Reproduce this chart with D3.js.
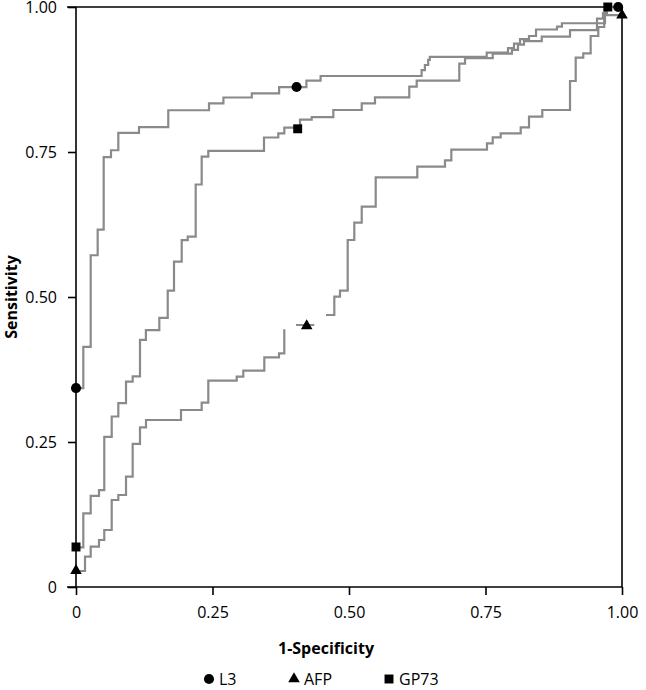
<!DOCTYPE html>
<html>
<head>
<meta charset="utf-8">
<script src="https://cdn.jsdelivr.net/npm/d3@7/dist/d3.min.js"></script>
<style>
  html, body { margin: 0; padding: 0; background: #fff; }
  svg { display: block; }
  text { font-family: "Open Sans", "Noto Sans", sans-serif; fill: #000; }
</style>
</head>
<body>
<svg id="chart" width="646" height="690"></svg>
<script>
// ---- Data (1-Specificity, Sensitivity) step corners ----
const seriesNames = ["L3", "AFP", "GP73"];

const l3Points = [
  [0, 0.343], [0.0134, 0.414], [0.0269, 0.572], [0.0397, 0.616], [0.0507, 0.741],
  [0.0641, 0.753], [0.0775, 0.783], [0.1154, 0.793], [0.169, 0.822], [0.2436, 0.834],
  [0.270, 0.844], [0.322, 0.851], [0.372, 0.862], [0.422, 0.873], [0.448, 0.881],
  [0.633, 0.891], [0.639, 0.900], [0.645, 0.909], [0.648, 0.914], [0.7522, 0.9214],
  [0.7912, 0.929], [0.8022, 0.937], [0.8132, 0.9445], [0.8297, 0.950], [0.8425, 0.9612],
  [0.881, 0.966], [0.890, 0.972], [0.9542, 0.980], [0.9652, 0.990], [0.9725, 1.0],
  [0.993, 1.0]
];

const gp73Points = [
  [0, 0.0684], [0.0134, 0.127], [0.0269, 0.157], [0.0421, 0.167], [0.0518, 0.259],
  [0.0654, 0.294], [0.0775, 0.317], [0.0916, 0.354], [0.1038, 0.363], [0.1172, 0.426],
  [0.128, 0.443], [0.1526, 0.464], [0.168, 0.511], [0.1795, 0.561], [0.1936, 0.598],
  [0.2046, 0.604], [0.2192, 0.694], [0.2302, 0.742], [0.2423, 0.752], [0.3443, 0.775],
  [0.3705, 0.782], [0.3815, 0.792], [0.4103, 0.8057], [0.4317, 0.8103], [0.4713, 0.8224],
  [0.5233, 0.834], [0.5476, 0.8443], [0.6104, 0.8626], [0.624, 0.8729], [0.702, 0.9022],
  [0.7125, 0.9119], [0.7632, 0.9195], [0.7985, 0.926], [0.8095, 0.935], [0.8205, 0.941],
  [0.853, 0.949], [0.9048, 0.960], [0.9542, 0.972], [0.9689, 0.988], [0.9689, 1.0],
  [0.974, 1.0]
];

// null marks a visible break in the drawn AFP curve
const afpPoints = [
  [0, 0.0276], [0.0165, 0.0522], [0.0269, 0.0695], [0.0421, 0.081], [0.0518, 0.0983],
  [0.0654, 0.150], [0.0775, 0.1586], [0.0916, 0.1902], [0.1038, 0.2466], [0.1172, 0.2753],
  [0.1282, 0.2879], [0.1923, 0.3052], [0.2302, 0.3178], [0.2423, 0.3557], [0.2943, 0.3626],
  [0.3064, 0.3729], [0.3449, 0.396], [0.3718, 0.4029], [0.3815, 0.4443],
  null,
  [0.4029, 0.4517], [0.4364, 0.4517],
  null,
  [0.4579, 0.469], [0.4731, 0.5005], [0.4835, 0.5109], [0.4976, 0.5983], [0.5097, 0.6281],
  [0.5233, 0.6557], [0.5489, 0.7064], [0.6251, 0.7247], [0.6758, 0.7357], [0.6874, 0.754],
  [0.7527, 0.765], [0.7632, 0.7753], [0.7778, 0.7822], [0.8145, 0.7926], [0.8297, 0.8109],
  [0.854, 0.8224], [0.9048, 0.8724], [0.9152, 0.9126], [0.9291, 0.9202], [0.9426, 0.950],
  [0.9566, 0.9655], [0.9674, 0.986], [1.0, 0.986]
];

const l3Markers = [[0, 0.343], [0.404, 0.862], [0.993, 1.0]];
const afpMarkers = [[0, 0.028], [0.4225, 0.45], [1.0, 0.986]];
const gp73Markers = [[0, 0.069], [0.406, 0.79], [0.974, 1.0]];

const tickValues = [0, 0.25, 0.5, 0.75, 1.0];
const tickLabels = ["0", "0.25", "0.50", "0.75", "1.00"];
const xTitle = "1-Specificity";
const yTitle = "Sensitivity";

// ---- Drawing ----
const svg = d3.select("#chart");
const x = d3.scaleLinear().domain([0, 1]).range([76, 622]);
const y = d3.scaleLinear().domain([0, 1]).range([587, 7]);

const fmt = v => tickLabels[tickValues.indexOf(v)];

// frame (top and right)
svg.append("line").attr("x1", x(0) - 9).attr("x2", x(1)).attr("y1", y(1)).attr("y2", y(1))
  .attr("stroke", "#000").attr("stroke-width", 1.6);
svg.append("line").attr("x1", x(1)).attr("x2", x(1)).attr("y1", y(1)).attr("y2", y(0))
  .attr("stroke", "#000").attr("stroke-width", 1.6);

const xAxis = svg.append("g").attr("transform", `translate(0,${y(0)})`)
  .call(d3.axisBottom(x).tickValues(tickValues).tickFormat(fmt).tickSize(8).tickPadding(12));
const yAxis = svg.append("g").attr("transform", `translate(${x(0)},0)`)
  .call(d3.axisLeft(y).tickValues(tickValues).tickFormat(fmt).tickSize(8).tickPadding(11));

[xAxis, yAxis].forEach(g => {
  g.select(".domain").remove();
  g.selectAll(".tick line").attr("stroke", "#000").attr("stroke-width", 1.6);
  g.selectAll(".tick text").style("font-size", "16px").style("font-family", "'Open Sans', sans-serif").attr("fill", "#000");
});
// axis lines
svg.append("line").attr("x1", x(0) - 9).attr("x2", x(1)).attr("y1", y(0)).attr("y2", y(0))
  .attr("stroke", "#000").attr("stroke-width", 1.6);
svg.append("line").attr("x1", x(0)).attr("x2", x(0)).attr("y1", y(1)).attr("y2", y(0))
  .attr("stroke", "#000").attr("stroke-width", 1.6);

// curves
const line = d3.line()
  .defined(d => d !== null)
  .x(d => x(d[0])).y(d => y(d[1]))
  .curve(d3.curveStepAfter);

[l3Points, afpPoints, gp73Points].forEach(pts => {
  svg.append("path").datum(pts).attr("d", line)
    .attr("fill", "none").attr("stroke", "#8a8a8a").attr("stroke-width", 2.2);
});

// markers
const symCircle = d3.symbol(d3.symbolCircle, 80);
const symTriangle = d3.symbol(d3.symbolTriangle, 58);
const symSquare = d3.symbol(d3.symbolSquare, 80);

function drawMarkers(data, sym) {
  svg.append("g").selectAll("path").data(data).join("path")
    .attr("d", sym)
    .attr("transform", d => `translate(${x(d[0])},${y(d[1])})`)
    .attr("fill", "#000");
}
drawMarkers(l3Markers, symCircle);
drawMarkers(afpMarkers, symTriangle);
drawMarkers(gp73Markers, symSquare);

// titles
svg.append("text").attr("x", 326).attr("y", 654).attr("text-anchor", "middle")
  .style("font-size", "16px").style("font-weight", "bold").text(xTitle);
svg.append("text").attr("transform", `translate(17,${(y(0) + y(1)) / 2}) rotate(-90)`)
  .attr("text-anchor", "middle").style("font-size", "16px").style("font-weight", "bold").text(yTitle);

// legend
const legendSyms = [symCircle, symTriangle, symSquare];
const legendX = [209, 294, 389];
const lg = svg.append("g");
seriesNames.forEach((name, i) => {
  lg.append("path").attr("d", legendSyms[i]).attr("transform", `translate(${legendX[i]},679)`).attr("fill", "#000");
  lg.append("text").attr("x", legendX[i] + 10).attr("y", 684.5)
    .style("font-size", "16px").text(name);
});
</script>
</body>
</html>
